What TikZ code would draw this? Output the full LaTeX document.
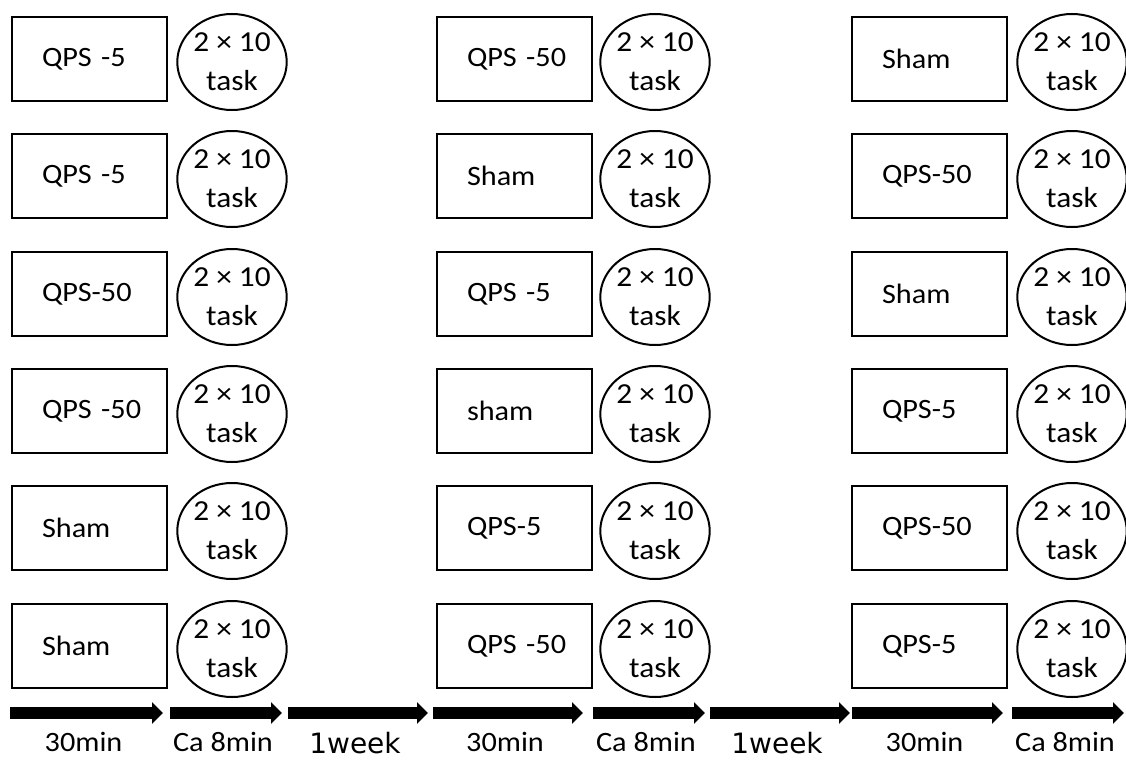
\documentclass[tikz,border=0pt]{standalone}
\usepackage{fontspec}
\setmainfont{Carlito}[FakeStretch=1.08]
\newfontfamily\weekfont{DejaVu Sans}
\usetikzlibrary{arrows.meta,shapes.geometric}
\tikzset{
  cond/.style={draw, line width=2.4pt, minimum width=155pt, minimum height=84pt, text width=95pt, inner xsep=30pt, align=left,
    execute at begin node=\hbox\bgroup, execute at end node=\egroup, font=\fontsize{28}{34}\selectfont},
  task/.style={draw, ellipse, line width=2pt, minimum width=103pt, minimum height=96pt, inner sep=0pt, align=center,
    yshift=-3pt, font=\fontsize{29}{39}\selectfont},
  phase/.style={line width=12pt, -{Triangle[width=21pt,length=11pt]}},
  dur/.style={font=\fontsize{28}{34}\selectfont, inner sep=1pt}
}
\begin{document}
\begin{tikzpicture}[x=1pt, y=-1pt]
\useasboundingbox (0,0) rectangle (1126,760);
% Session 1
\begin{scope}
\node[cond] (b11) at (89.5,59) {QPS -5};   \node[task] (t11) at (232,59) {2 × 10\\task};
\node[cond] (b12) at (89.5,176) {QPS -5};  \node[task] (t12) at (232,176) {2 × 10\\task};
\node[cond] (b13) at (89.5,294) {QPS-50};  \node[task] (t13) at (232,294) {2 × 10\\task};
\node[cond] (b14) at (89.5,411) {QPS -50}; \node[task] (t14) at (232,411) {2 × 10\\task};
\node[cond] (b15) at (89.5,528) {Sham};    \node[task] (t15) at (232,528) {2 × 10\\task};
\node[cond] (b16) at (89.5,646) {Sham};    \node[task] (t16) at (232,646) {2 × 10\\task};
\end{scope}
% Session 2
\begin{scope}[xshift=425pt]
\node[cond] (b21) at (89.5,59) {QPS -50};  \node[task] (t21) at (230,59) {2 × 10\\task};
\node[cond] (b22) at (89.5,176) {Sham};    \node[task] (t22) at (230,176) {2 × 10\\task};
\node[cond] (b23) at (89.5,294) {QPS -5};  \node[task] (t23) at (230,294) {2 × 10\\task};
\node[cond] (b24) at (89.5,411) {sham};    \node[task] (t24) at (230,411) {2 × 10\\task};
\node[cond] (b25) at (89.5,528) {QPS-5};   \node[task] (t25) at (230,528) {2 × 10\\task};
\node[cond] (b26) at (89.5,646) {QPS -50}; \node[task] (t26) at (230,646) {2 × 10\\task};
\end{scope}
% Session 3
\begin{scope}[xshift=840pt]
\node[cond] (b31) at (89.5,59) {Sham};     \node[task] (t31) at (232,59) {2 × 10\\task};
\node[cond] (b32) at (89.5,176) {QPS-50};  \node[task] (t32) at (232,176) {2 × 10\\task};
\node[cond] (b33) at (89.5,294) {Sham};    \node[task] (t33) at (232,294) {2 × 10\\task};
\node[cond] (b34) at (89.5,411) {QPS-5};   \node[task] (t34) at (232,411) {2 × 10\\task};
\node[cond] (b35) at (89.5,528) {QPS-50};  \node[task] (t35) at (232,528) {2 × 10\\task};
\node[cond] (b36) at (89.5,646) {QPS-5};   \node[task] (t36) at (232,646) {2 × 10\\task};
\end{scope}
% Timeline
\foreach \i/\xa/\xb/\txt in {1/10/163/30min, 2/170/282/Ca 8min, 3/288/428/{\weekfont 1week},
    4/433/583/30min, 5/593/705/Ca 8min, 6/710/850/{\weekfont 1week},
    7/852/1003/30min, 8/1012/1124/Ca 8min} {
  \coordinate (p\i) at (\xa,713);
  \coordinate (q\i) at (\xb,713);
  \draw[phase] (p\i) -- (q\i) node[dur, midway, below=12pt, xshift=-3pt] (d\i) {\txt};
}
\end{tikzpicture}
\end{document}
